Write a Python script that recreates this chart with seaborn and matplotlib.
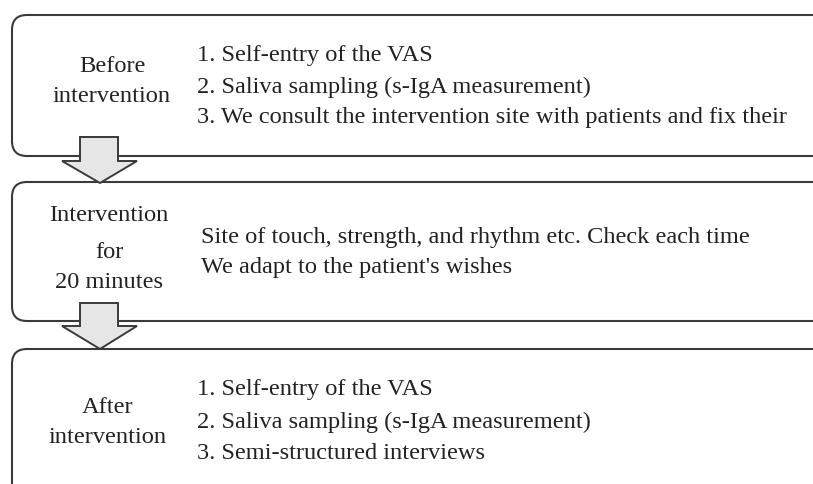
import matplotlib
matplotlib.use("Agg")
import matplotlib.pyplot as plt
import seaborn as sns
from matplotlib.patches import FancyBboxPatch, Polygon

# ── Conteúdo do fluxograma ───────────────────────────────────────────────────

stage_labels = [
    ["Before", "intervention"],
    ["Intervention", "for", "20 minutes"],
    ["After", "intervention"],
]

stage_steps = [
    ["1. Self-entry of the VAS",
     "2. Saliva sampling (s-IgA measurement)",
     "3. We consult the intervention site with patients and fix their"],
    ["Site of touch, strength, and rhythm etc. Check each time",
     "We adapt to the patient's wishes"],
    ["1. Self-entry of the VAS",
     "2. Saliva sampling (s-IgA measurement)",
     "3. Semi-structured interviews"],
]

# geometria (pixels, y para baixo)
box_top = [16, 183, 350]
box_bottom = [157, 322, 520]
label_y = [[67, 97], [216, 252, 283], [408, 438]]
label_x = [112, 109, 108]
step_y = [[56, 87, 118], [238, 268], [390, 422, 454]]

EDGE = "#3a3a3a"
TEXT = "#222222"
FILL = "#e6e6e6"
FONT_SIZE = 17.6


def draw_arrow(ax, top, base, tip):
    pts = [(80, top), (118, top), (118, base), (137, base),
           (100, tip), (62, base), (80, base)]
    ax.add_patch(Polygon(pts, closed=True, facecolor=FILL, edgecolor=EDGE,
                         linewidth=1.4, zorder=3))


def main():
    sns.set_theme(style="white")
    plt.rcParams["font.family"] = ["Liberation Serif", "DejaVu Serif"]

    fig = plt.figure(figsize=(8.13, 4.85), dpi=100)
    ax = fig.add_axes([0, 0, 1, 1])
    ax.set_xlim(0, 813)
    ax.set_ylim(485, 0)
    ax.axis("off")

    for i in range(3):
        top, bot = box_top[i], box_bottom[i]
        ax.add_patch(FancyBboxPatch(
            (12, top), 840, bot - top,
            boxstyle="round,pad=0,rounding_size=15",
            facecolor="white", edgecolor=EDGE, linewidth=1.5, zorder=1,
        ))
        for txt, y in zip(stage_labels[i], label_y[i]):
            ax.text(label_x[i], y, txt, ha="center", va="center",
                    fontsize=FONT_SIZE, color=TEXT, zorder=4)
        x0 = 197 if i != 1 else 201
        for txt, y in zip(stage_steps[i], step_y[i]):
            ax.text(x0, y, txt, ha="left", va="center",
                    fontsize=FONT_SIZE, color=TEXT, zorder=4)

    draw_arrow(ax, 138, 162, 184)
    draw_arrow(ax, 304, 327, 350)

    fig.savefig("out.png", dpi=100)
    plt.close(fig)


if __name__ == "__main__":
    main()
